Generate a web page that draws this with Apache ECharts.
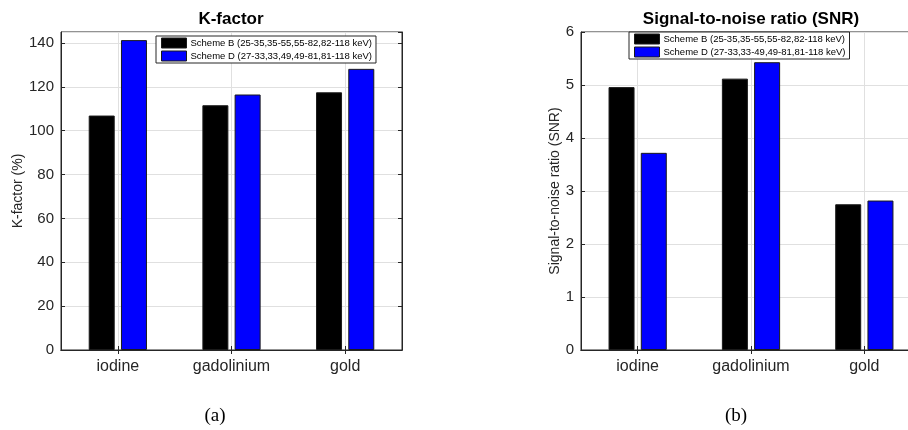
<!DOCTYPE html>
<html>
<head>
<meta charset="utf-8">
<script src="https://cdn.jsdelivr.net/npm/echarts@6/dist/echarts.min.js"></script>
<style>
html,body{margin:0;padding:0;background:#fff;}
#c{width:908px;height:430px;}
</style>
</head>
<body>
<div id="c"></div>
<script>
// ---- data ----
var categories = ['iodine', 'gadolinium', 'gold'];
var gridCats = ['', 'iodine', '', 'gadolinium', '', 'gold', ''];
var nameB = 'Scheme B (25-35,35-55,55-82,82-118 keV)';
var nameDLeft = 'Scheme D (27-33,33,49,49-81,81-118 keV)';
var nameDRight = 'Scheme D (27-33,33-49,49-81,81-118 keV)';
var kFactorB = [106.9, 111.6, 117.5];
var kFactorD = [141.3, 116.5, 128.2];
var snrB = [4.96, 5.12, 2.75];
var snrD = [3.72, 5.43, 2.82];
var kTicks = {min: 0, max: 145, interval: 20};
var snrTicks = {min: 0, max: 6, interval: 1};

var FONT = '"Liberation Sans", Arial, Helvetica, sans-serif';
var AX = '#262626';
var GRIDC = '#e0e0e0';
var oddOnly = function (i) { return i % 2 === 1; };

function panelAxes(gi, ticks, yName, nameGap) {
  var x = [
    { type: 'category', gridIndex: gi, data: categories, position: 'bottom',
      axisLine: { lineStyle: { color: AX, width: 1 } },
      axisTick: { show: true, inside: true, length: 4, alignWithLabel: true, lineStyle: { color: AX } },
      axisLabel: { color: AX, fontSize: 16, fontFamily: FONT, margin: 9 },
      splitLine: { show: false } },
    { type: 'category', gridIndex: gi, data: gridCats, boundaryGap: false, position: 'top',
      axisLine: { show: true, lineStyle: { color: AX, width: 1 } },
      axisTick: { show: true, inside: true, length: 4, interval: oddOnly, lineStyle: { color: AX } },
      axisLabel: { show: false },
      splitLine: { show: true, interval: oddOnly, lineStyle: { color: GRIDC, width: 1 } } }
  ];
  var y = [
    { type: 'value', gridIndex: gi, min: ticks.min, max: ticks.max, interval: ticks.interval,
      name: yName, nameLocation: 'middle', nameGap: nameGap,
      nameTextStyle: { color: AX, fontSize: 14, fontFamily: FONT },
      axisLine: { show: true, lineStyle: { color: AX, width: 1 } },
      axisTick: { show: true, inside: true, length: 4, lineStyle: { color: AX } },
      axisLabel: { color: AX, fontSize: 15, fontFamily: FONT, margin: 7, showMaxLabel: ticks.max % ticks.interval === 0 },
      splitLine: { show: true, lineStyle: { color: GRIDC, width: 1 } } },
    { type: 'value', gridIndex: gi, min: ticks.min, max: ticks.max, interval: ticks.interval, position: 'right',
      axisLine: { show: true, lineStyle: { color: AX, width: 1 } },
      axisTick: { show: true, inside: true, length: 4, lineStyle: { color: AX } },
      axisLabel: { show: false },
      splitLine: { show: false } }
  ];
  return { x: x, y: y };
}

var p0 = panelAxes(0, kTicks, 'K-factor (%)', 36);
var p1 = panelAxes(1, snrTicks, 'Signal-to-noise ratio (SNR)', 17);

function bar(name, data, color, xi, yi) {
  return { type: 'bar', name: name, data: data, xAxisIndex: xi, yAxisIndex: yi,
    barWidth: 26, barGap: '24%',
    itemStyle: { color: color, borderColor: '#1a1a1a', borderWidth: 1 },
    emphasis: { disabled: true }, animation: false };
}

function legend(left, top, names, fs, pad) {
  return { show: true, orient: 'vertical', left: left, top: top, data: names,
    backgroundColor: '#fff', borderColor: AX, borderWidth: 1, borderRadius: 0,
    padding: pad, itemGap: 1, itemWidth: 25, itemHeight: 10, icon: 'rect',
    itemStyle: { borderColor: '#1a1a1a', borderWidth: 1 },
    textStyle: { color: '#000', fontSize: fs, fontFamily: FONT, lineHeight: 12, padding: [0, 0, 0, -1] },
    selectedMode: false };
}

var chart = echarts.init(document.getElementById('c'), null, { renderer: 'canvas' });
chart.setOption({
  backgroundColor: '#fff',
  animation: false,
  grid: [
    { left: 61, top: 32, width: 341, height: 318, show: true, borderColor: AX, borderWidth: 1, backgroundColor: '#fff', outerBoundsMode: 'none', containLabel: false },
    { left: 581, top: 32, width: 340, height: 318, show: true, borderColor: AX, borderWidth: 1, backgroundColor: '#fff', outerBoundsMode: 'none', containLabel: false }
  ],
  xAxis: p0.x.concat(p1.x),
  yAxis: p0.y.concat(p1.y),
  legend: [
    legend(156, 36, [nameB, nameDLeft], 9.5, [1, 4, 1, 5]),
    legend(629, 32, [nameB, nameDRight], 9.5, [1, 4, 1, 5])
  ],
  series: [
    bar(nameB, kFactorB, '#000000', 0, 0),
    bar(nameDLeft, kFactorD, '#0000ff', 0, 0),
    bar(nameB, snrB, '#000000', 2, 2),
    bar(nameDRight, snrD, '#0000ff', 2, 2)
  ],
  graphic: [
    { type: 'text', silent: true, style: { x: 231, y: 19, text: 'K-factor', textAlign: 'center', textVerticalAlign: 'middle', font: 'bold 17px ' + FONT, fill: '#000' } },
    { type: 'text', silent: true, style: { x: 751, y: 19, text: 'Signal-to-noise ratio (SNR)', textAlign: 'center', textVerticalAlign: 'middle', font: 'bold 17px ' + FONT, fill: '#000' } },
    { type: 'text', silent: true, style: { x: 215, y: 416, text: '(a)', textAlign: 'center', textVerticalAlign: 'middle', font: '19px "Liberation Serif", "Times New Roman", serif', fill: '#000' } },
    { type: 'text', silent: true, style: { x: 736, y: 416, text: '(b)', textAlign: 'center', textVerticalAlign: 'middle', font: '19px "Liberation Serif", "Times New Roman", serif', fill: '#000' } }
  ]
});
</script>
</body>
</html>
